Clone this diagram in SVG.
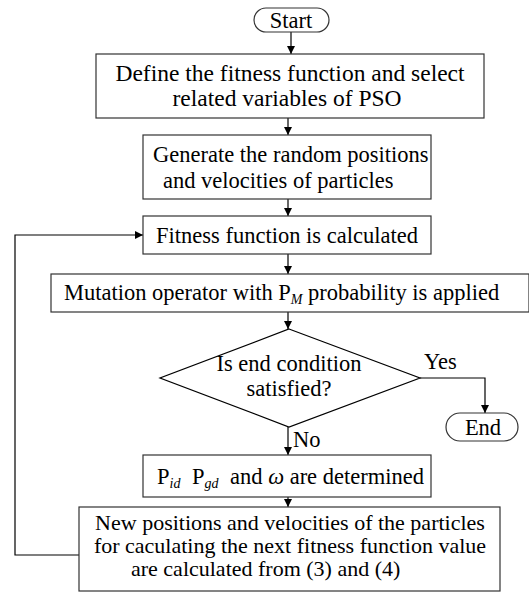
<svg xmlns="http://www.w3.org/2000/svg" width="529" height="592" viewBox="0 0 529 592">
<defs>
<marker id="ah" markerWidth="8" markerHeight="8" refX="8" refY="4" orient="auto" markerUnits="userSpaceOnUse">
<path d="M0,0 L8,4 L0,8 Z" fill="#000"/>
</marker>
<style>
.box{fill:#fff;stroke:#333;stroke-width:1.2}
.t{font-family:"Liberation Serif","Times New Roman",serif;font-size:22.5px;fill:#000}
.c{text-anchor:middle}
.sub{font-size:14px;font-style:italic}
.it{font-style:italic}
.ln{fill:none;stroke:#000;stroke-width:1.2}
.s6{font-size:22px}
</style>
</defs>
<rect width="529" height="592" fill="#fff"/>
<g id="connectors">
<line class="ln" x1="291" y1="32" x2="291" y2="54" marker-end="url(#ah)"/>
<line class="ln" x1="288" y1="118" x2="288" y2="135" marker-end="url(#ah)"/>
<line class="ln" x1="288" y1="199" x2="288" y2="216" marker-end="url(#ah)"/>
<line class="ln" x1="288" y1="254" x2="288" y2="274" marker-end="url(#ah)"/>
<line class="ln" x1="288" y1="312" x2="288" y2="329" marker-end="url(#ah)"/>
<polyline class="ln" points="420,378 485,378 485,413" marker-end="url(#ah)"/>
<line class="ln" x1="288" y1="427" x2="288" y2="455" marker-end="url(#ah)"/>
<line class="ln" x1="288" y1="497" x2="288" y2="507" marker-end="url(#ah)"/>
<polyline class="ln" points="79,555 15,555 15,235 143,235" marker-end="url(#ah)"/>
<text class="t" x="424" y="369">Yes</text>
<text class="t" x="293" y="447">No</text>
</g>
<g id="start">
<rect x="254" y="8" width="75" height="24" rx="12" class="box" stroke="#000"/>
<text class="t c" x="291" y="28">Start</text>
</g>
<g id="define">
<rect x="96" y="54" width="388" height="64" class="box"/>
<text class="t c" x="290" y="81" style="font-size:23.5px">Define the fitness function and select</text>
<text class="t c" x="287" y="106" style="font-size:23.5px">related variables of PSO</text>
</g>
<g id="generate">
<rect x="143" y="135" width="288" height="64" class="box"/>
<text class="t" x="153" y="162">Generate the random positions</text>
<text class="t" x="163" y="188">and velocities of particles</text>
</g>
<g id="fitness">
<rect x="143" y="216" width="288" height="38" class="box"/>
<text class="t c" x="287" y="243">Fitness function is calculated</text>
</g>
<g id="mutation">
<rect x="51" y="274" width="478" height="38" class="box"/>
<text class="t" x="64" y="300">Mutation operator with P<tspan class="sub" dy="4">M</tspan><tspan dy="-4" x="308">probability is applied</tspan></text>
</g>
<g id="decision">
<polygon points="289,329 420,378 289,427 160,378" fill="#fff" stroke="#000" stroke-width="1.2"/>
<text class="t c" x="289" y="371">Is end condition</text>
<text class="t c" x="289" y="396">satisfied?</text>
</g>
<g id="end">
<rect x="446" y="413" width="72" height="28" rx="14" class="box" stroke="#000"/>
<text class="t c" x="483" y="435">End</text>
</g>
<g id="determine">
<rect x="143" y="455" width="288" height="42" class="box"/>
<text class="t" x="157" y="484">P<tspan class="sub" dy="4">id</tspan><tspan dy="-4" x="192">P</tspan><tspan class="sub" dy="4">gd</tspan><tspan dy="-4" x="230">and </tspan><tspan class="it">ω</tspan><tspan> are determined</tspan></text>
</g>
<g id="update">
<rect x="79" y="507" width="421" height="84" class="box"/>
<text class="t c s6" x="290" y="530">New positions and velocities of the particles</text>
<text class="t c s6" x="290" y="553">for caculating the next fitness function value</text>
<text class="t s6" x="131" y="576">are calculated from (3) and (4)</text>
</g>
</svg>
